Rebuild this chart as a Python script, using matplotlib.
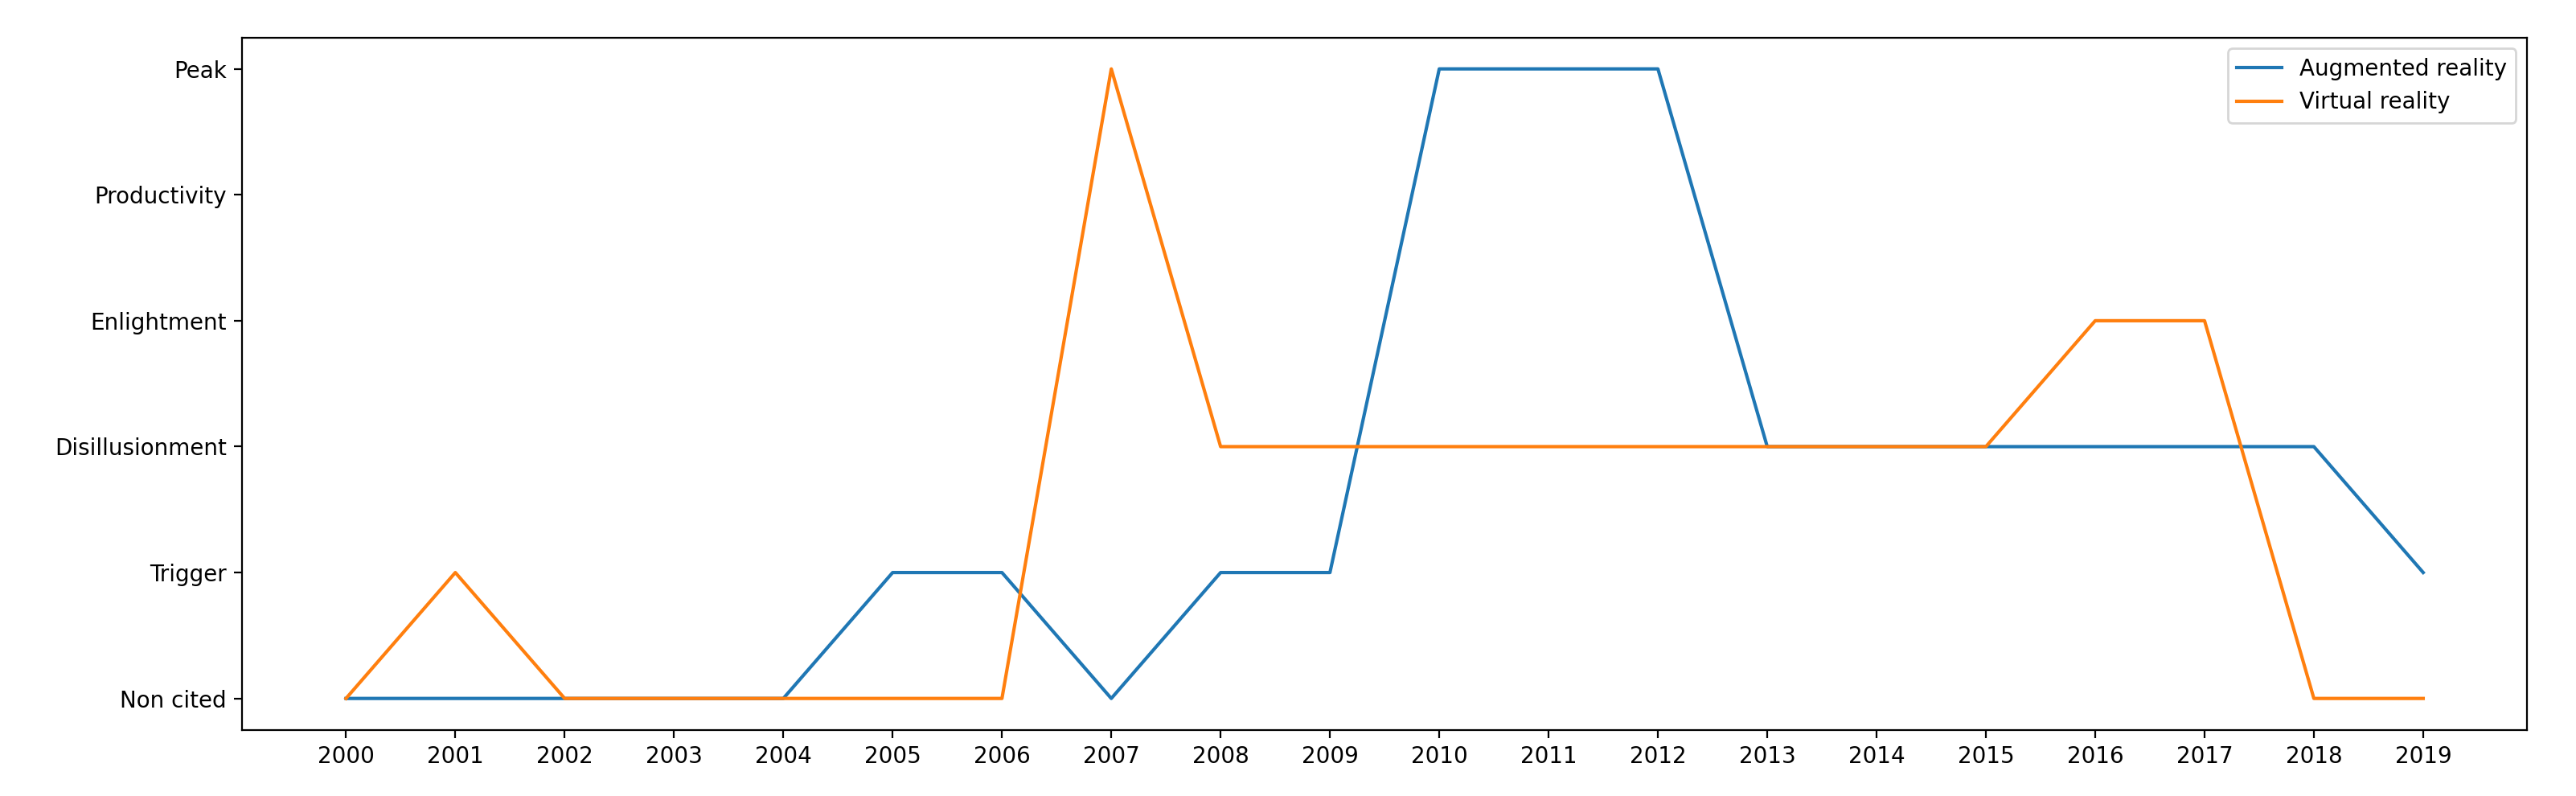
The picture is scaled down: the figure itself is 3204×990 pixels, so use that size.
import matplotlib
matplotlib.use("Agg")
import matplotlib.pyplot as plt

years = list(range(2000, 2020))
stages = ["Non cited", "Trigger", "Disillusionment", "Enlightment", "Productivity", "Peak"]

# stage index per year (0 = Non cited ... 5 = Peak)
augmented = [0, 0, 0, 0, 0, 1, 1, 0, 1, 1, 5, 5, 5, 2, 2, 2, 2, 2, 2, 1]
virtual = [0, 1, 0, 0, 0, 0, 0, 5, 2, 2, 2, 2, 2, 2, 2, 2, 3, 3, 0, 0]

fig, ax = plt.subplots(figsize=(16.02, 4.95), dpi=200)
ax.plot(years, augmented, label="Augmented reality")
ax.plot(years, virtual, label="Virtual reality")

ax.set_xticks(years)
ax.set_xticklabels([str(y) for y in years])
ax.set_yticks(range(len(stages)))
ax.set_yticklabels(stages)
ax.legend(loc="upper right")

fig.subplots_adjust(left=0.094, right=0.981, top=0.953, bottom=0.083)
fig.savefig("out.png", dpi=200)
